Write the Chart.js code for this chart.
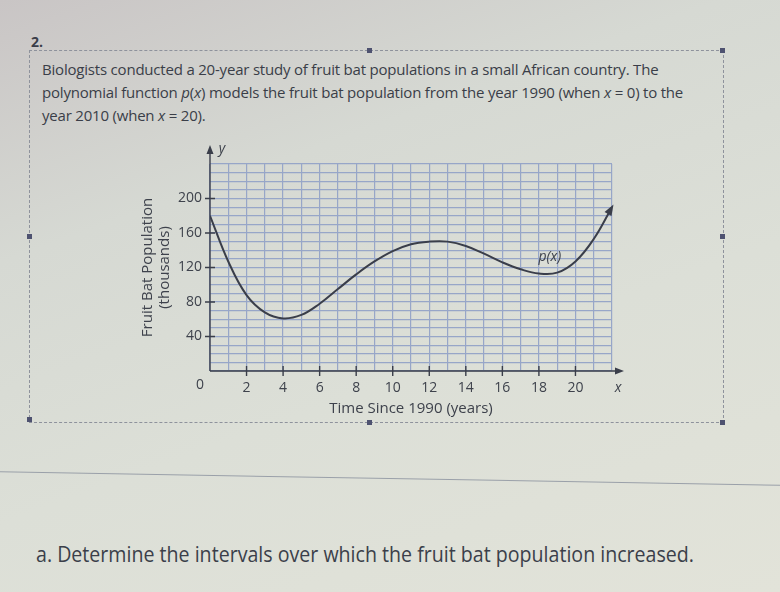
<!DOCTYPE html>
<html>
<head>
<meta charset="utf-8">
<script src="https://cdn.jsdelivr.net/npm/chart.js@4.4.1/dist/chart.umd.min.js"></script>
<style>
    html, body {
        margin: 0;
        padding: 0;
    }
    body {
        width: 780px;
        height: 592px;
        overflow: hidden;
        position: relative;
        font-family: "Open Sans", sans-serif;
        color: #3c4049;
        background: linear-gradient(160deg, #c9c5c5 0%, #d6d9d3 30%, #dcdfd7 60%, #e2e3d9 100%);
    }
    #num {
        position: absolute;
        left: 31px;
        top: 32px;
        font-size: 14px;
        font-weight: bold;
        color: #3a3d48;
    }
    #box {
        position: absolute;
        left: 29px;
        top: 50px;
        width: 693px;
        height: 371px;
        border: 1px dashed #8e929c;
    }
    .handle {
        position: absolute;
        width: 5px;
        height: 5px;
        background: #4e5270;
    }
    #intro {
        position: absolute;
        left: 42px;
        top: 58px;
        font-size: 15px;
        line-height: 23px;
        white-space: nowrap;
        letter-spacing: -0.2px;
        color: #3a3e48;
    }
    #wrap {
        position: absolute;
        left: 130px;
        top: 140px;
        width: 510px;
        height: 290px;
    }
    #rule {
        position: absolute;
        left: -10px;
        top: 478px;
        width: 800px;
        height: 1px;
        background: #9aa0a9;
        transform: rotate(1deg);
    }
    #question {
        position: absolute;
        left: 36px;
        top: 540px;
        font-size: 21px;
        white-space: nowrap;
        transform-origin: left center;
        color: #3b3f4a;
    }
</style>
</head>
<body>
<div id="num">2.</div>
<div id="box"></div>
<div class="handle" style="left:27px;top:234px"></div>
<div class="handle" style="left:27px;top:417px"></div>
<div class="handle" style="left:367px;top:48px"></div>
<div class="handle" style="left:720px;top:48px"></div>
<div class="handle" style="left:720px;top:234px"></div>
<div class="handle" style="left:720px;top:420px"></div>
<div class="handle" style="left:367px;top:420px"></div>
<div id="intro">
    Biologists conducted a 20-year study of fruit bat populations in a small African country. The<br>
    polynomial function <i>p</i>(<i>x</i>) models the fruit bat population from the year 1990 (when <i>x</i> = 0) to the<br>
    year 2010 (when <i>x</i> = 20).
</div>
<div id="wrap"><canvas id="chart"></canvas></div>
<div id="rule"></div>
<div id="question">a. Determine the intervals over which the fruit bat population increased.</div>

<script>
// years since 1990 and population (thousands)
const years = [0, 1, 2, 3, 4, 5, 6, 7, 8, 9, 10, 11, 12, 13, 14, 15, 16, 17, 18, 19, 20, 21, 22];
const population = [180, 127, 88, 68, 61, 65, 78, 95, 112, 127, 139, 147, 150, 150, 145, 136, 126, 118, 113, 114, 127, 153, 190];

const xTickLabels = [2, 4, 6, 8, 10, 12, 14, 16, 18, 20];
const yTickLabels = [40, 80, 120, 160, 200];

const INK = "#3a3e4a";
const TEXT = "#3e424c";
const GRID = "#97a6c8";
const FONT = "'Open Sans', sans-serif";

const axisDecor = {
    id: "axisDecor",
    afterDatasetsDraw(chart) {
        const ctx = chart.ctx;
        const x = chart.scales.x;
        const y = chart.scales.y;
        const area = chart.chartArea;
        const x0 = x.getPixelForValue(0);
        const y0 = y.getPixelForValue(0);

        ctx.save();
        ctx.strokeStyle = INK;
        ctx.fillStyle = INK;
        ctx.lineWidth = 1.4;

        // axes
        ctx.beginPath();
        ctx.moveTo(x0, y0);
        ctx.lineTo(x0, area.top - 16);
        ctx.moveTo(x0, y0);
        ctx.lineTo(area.right + 8, y0);
        ctx.stroke();

        // axis arrows
        ctx.beginPath();
        ctx.moveTo(x0, area.top - 19);
        ctx.lineTo(x0 - 3.5, area.top - 10);
        ctx.lineTo(x0 + 3.5, area.top - 10);
        ctx.closePath();
        ctx.moveTo(area.right + 12, y0);
        ctx.lineTo(area.right + 3, y0 - 3.5);
        ctx.lineTo(area.right + 3, y0 + 3.5);
        ctx.closePath();
        ctx.fill();

        // tick crosses
        ctx.beginPath();
        yTickLabels.forEach(v => {
            const py = y.getPixelForValue(v);
            ctx.moveTo(x0 - 5, py);
            ctx.lineTo(x0 + 5, py);
        });
        xTickLabels.forEach(v => {
            const px = x.getPixelForValue(v);
            ctx.moveTo(px, y0 - 5);
            ctx.lineTo(px, y0 + 5);
        });
        ctx.stroke();

        // arrow at the end of the curve
        const pts = chart.getDatasetMeta(0).data;
        const last = pts[pts.length - 1];
        let fx = last.cp1x, fy = last.cp1y;
        if (fx === undefined) {
            fx = pts[pts.length - 2].x;
            fy = pts[pts.length - 2].y;
        }
        const ang = Math.atan2(last.y - fy, last.x - fx);
        ctx.beginPath();
        ctx.moveTo(last.x + 3 * Math.cos(ang), last.y + 3 * Math.sin(ang));
        ctx.lineTo(last.x - 8 * Math.cos(ang) + 4 * Math.sin(ang), last.y - 8 * Math.sin(ang) - 4 * Math.cos(ang));
        ctx.lineTo(last.x - 8 * Math.cos(ang) - 4 * Math.sin(ang), last.y - 8 * Math.sin(ang) + 4 * Math.cos(ang));
        ctx.closePath();
        ctx.fill();

        // labels
        ctx.fillStyle = TEXT;
        ctx.textBaseline = "middle";
        ctx.textAlign = "center";
        ctx.font = "14px " + FONT;
        ctx.fillText("0", x0 - 10, y0 + 14);
        ctx.font = "italic 14px " + FONT;
        ctx.fillText("x", area.right + 6, y0 + 17);
        ctx.fillText("y", x0 + 12, area.top - 15);
        ctx.fillText("p(x)", x.getPixelForValue(18.6), y.getPixelForValue(132));
        ctx.restore();
    }
};

new Chart(document.getElementById("chart"), {
    type: "line",
    data: {
        datasets: [{
            data: years.map((yr, i) => ({ x: yr, y: population[i] })),
            borderColor: INK,
            borderWidth: 2,
            pointRadius: 0,
            tension: 0.4,
            fill: false
        }]
    },
    options: {
        responsive: true,
        maintainAspectRatio: false,
        animation: false,
        events: [],
        layout: {
            padding: { top: 24, right: 28, left: 0, bottom: 0 }
        },
        plugins: {
            legend: { display: false },
            tooltip: { enabled: false }
        },
        scales: {
            x: {
                type: "linear",
                min: 0,
                max: 22,
                afterFit: s => { s.height = 59; },
                border: { display: false },
                grid: { color: GRID, lineWidth: 1.2, drawTicks: false },
                ticks: {
                    stepSize: 1,
                    autoSkip: false,
                    maxRotation: 0,
                    padding: 9,
                    color: TEXT,
                    font: { family: FONT, size: 14 },
                    callback: v => xTickLabels.includes(v) ? v : ""
                },
                title: {
                    display: true,
                    text: "Time Since 1990 (years)",
                    color: TEXT,
                    font: { family: FONT, size: 15 },
                    padding: { top: 0, bottom: 12 }
                }
            },
            y: {
                min: 0,
                max: 240,
                afterFit: s => { s.width = 80; },
                border: { display: false },
                grid: { color: GRID, lineWidth: 1.2, drawTicks: false },
                ticks: {
                    stepSize: 10,
                    autoSkip: false,
                    padding: 8,
                    color: TEXT,
                    font: { family: FONT, size: 14 },
                    callback: v => yTickLabels.includes(v) ? v : ""
                },
                title: {
                    display: true,
                    text: ["Fruit Bat Population", "(thousands)"],
                    color: TEXT,
                    font: { family: FONT, size: 15, lineHeight: 1.15 },
                    padding: { top: 9, bottom: 0 }
                }
            }
        }
    },
    plugins: [axisDecor]
});

// squeeze the question line to the width it has in the photo
const q = document.getElementById("question");
q.style.transform = "scaleX(" + (658 / q.offsetWidth) + ")";
</script>
</body>
</html>
